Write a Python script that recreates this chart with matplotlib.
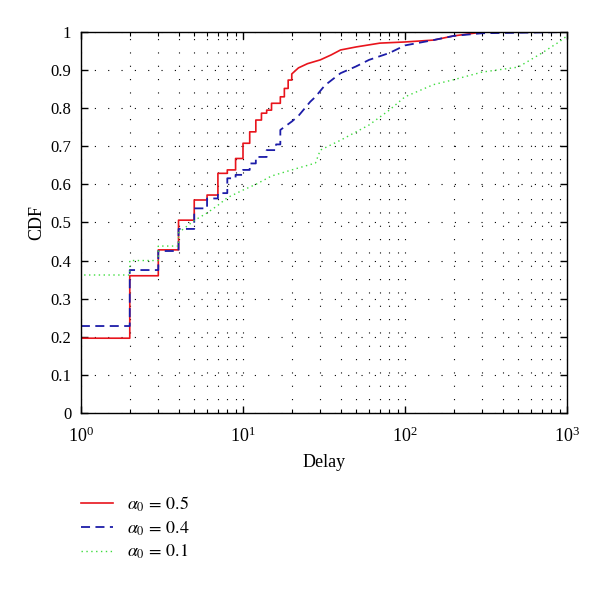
import matplotlib
matplotlib.use("Agg")
import matplotlib.pyplot as plt
from matplotlib.ticker import LogLocator, NullFormatter

plt.rcParams['font.family'] = ['Liberation Serif', 'DejaVu Serif']
plt.rcParams['mathtext.fontset'] = 'stix'

# CDF of delay for three alpha_0 values
x_05 = [1, 1, 2, 3, 4, 5, 6, 7, 8, 9, 10, 11, 12, 13, 14, 15, 17, 18, 19, 20, 22, 25,
        30, 35, 40, 50, 70, 100, 150, 200, 300, 1000]
y_05 = [0, 0.196, 0.36, 0.428, 0.506, 0.559, 0.572, 0.629, 0.638, 0.668, 0.708, 0.738,
        0.769, 0.787, 0.795, 0.813, 0.830, 0.852, 0.874, 0.89, 0.906, 0.917, 0.927, 0.94,
        0.953, 0.961, 0.971, 0.974, 0.979, 0.99, 1.0, 1.0]

x_04 = [1, 1, 2, 3, 4, 5, 6, 7, 8, 9, 10, 11, 12, 14, 16, 17, 20, 22, 26, 28, 32, 40,
        50, 60, 80, 100, 150, 200, 300, 1000]
y_04 = [0, 0.228, 0.375, 0.425, 0.483, 0.537, 0.563, 0.577, 0.616, 0.625, 0.638, 0.655,
        0.672, 0.69, 0.705, 0.743, 0.765, 0.78, 0.817, 0.83, 0.86, 0.892, 0.91, 0.927,
        0.945, 0.965, 0.979, 0.99, 0.997, 1.0]

x_01 = [1, 1, 2, 2, 3, 3, 4, 4, 4.5, 5, 6, 7, 8, 10, 12, 15, 20, 28, 30, 40, 60, 80,
        100, 150, 200, 300, 500, 700, 900, 1000]
y_01 = [0, 0.362, 0.362, 0.40, 0.40, 0.438, 0.438, 0.473, 0.49, 0.505, 0.525, 0.545,
        0.565, 0.585, 0.60, 0.622, 0.638, 0.656, 0.69, 0.716, 0.756, 0.795, 0.83, 0.862,
        0.875, 0.895, 0.908, 0.945, 0.975, 0.99]

y_ticks = [0, 0.1, 0.2, 0.3, 0.4, 0.5, 0.6, 0.7, 0.8, 0.9, 1]
y_ticklabels = ['0', '0.1', '0.2', '0.3', '0.4', '0.5', '0.6', '0.7', '0.8', '0.9', '1']


def step_then_line(xs, ys, split):
    # staircase up to `split`, straight segments after it
    px, py = [xs[0]], [ys[0]]
    for i in range(1, len(xs)):
        if xs[i] <= split:
            px.append(xs[i])
            py.append(py[-1])
        px.append(xs[i])
        py.append(ys[i])
    return px, py


fig = plt.figure(figsize=(6, 5.94), dpi=100)
ax = fig.add_axes([0.135, 0.305, 0.81, 0.641])

rx, ry = step_then_line(x_05, y_05, 20)
bx, by = step_then_line(x_04, y_04, 17)
l1, = ax.plot(rx, ry, color='#e8141c', lw=1.2, label=r'$\alpha_0\,=\,0.5$')
l2, = ax.plot(bx, by, color='#1c1ca8', lw=1.3, linestyle=(0, (5, 3)),
              label=r'$\alpha_0\,=\,0.4$')
l3, = ax.plot(x_01, y_01, color='#3ddc3d', lw=1.0, linestyle=(0, (1, 2.5)),
              label=r'$\alpha_0\,=\,0.1$')

ax.set_xscale('log')
ax.set_xlim(1, 1000)
ax.set_ylim(0, 1)
ax.xaxis.set_major_locator(LogLocator(base=10))
ax.xaxis.set_minor_locator(LogLocator(base=10, subs=range(2, 10)))
ax.xaxis.set_minor_formatter(NullFormatter())
ax.set_yticks(y_ticks)
ax.set_yticklabels(y_ticklabels)

ax.grid(True, axis='x', which='both', color='black', lw=0.8, linestyle=(0, (1, 11)))
ax.grid(True, axis='y', which='major', color='black', lw=0.8, linestyle=(0, (1, 11)))

ax.tick_params(direction='in', which='both', top=True, right=True)
ax.tick_params(axis='y', labelsize=12, pad=7)
ax.tick_params(axis='x', labelsize=13, pad=10)
ax.tick_params(which='major', length=5, width=1)
ax.tick_params(which='minor', length=3, width=0.8)
for s in ax.spines.values():
    s.set_linewidth(1.0)

ax.set_xlabel('Delay', fontsize=13, labelpad=6)
ax.set_ylabel('CDF', fontsize=13)

fig.legend(handles=[l1, l2, l3], loc='upper left', bbox_to_anchor=(0.108, 0.195),
           frameon=False, fontsize=13, handlelength=1.75, labelspacing=0.3,
           handletextpad=0.8)

fig.savefig('out.png', dpi=100)
